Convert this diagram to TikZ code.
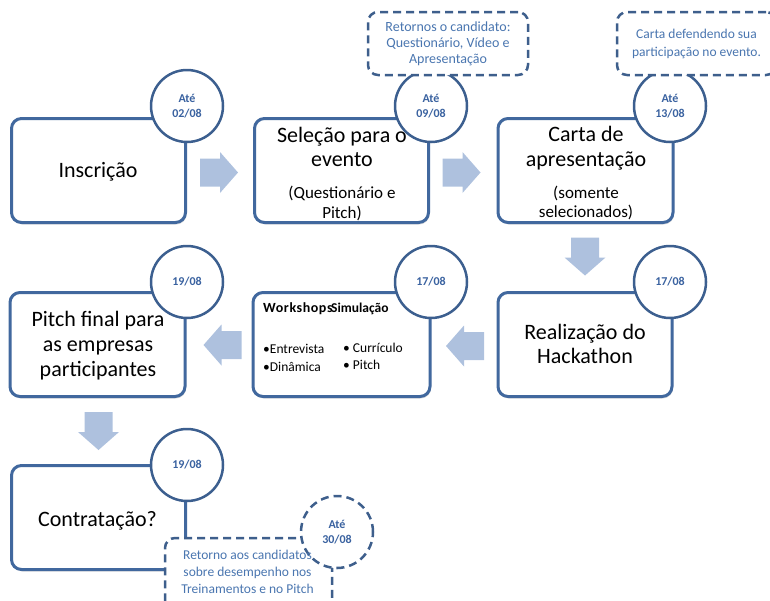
\documentclass[tikz,border=0pt]{standalone}
\usepackage{fontspec}
\setmainfont{Carlito}
\usetikzlibrary{shadows}
\definecolor{boxblue}{HTML}{41689E}
\definecolor{circblue}{HTML}{3C5F8F}
\definecolor{dashblue}{HTML}{3E5F8C}
\definecolor{datetext}{HTML}{3A62A0}
\definecolor{notetext}{HTML}{4A76B0}
\definecolor{arrowblue}{HTML}{AEC1DE}
\begin{document}
\begin{tikzpicture}[x=1pt,y=-1pt,
  stagebox/.style={draw=boxblue, line width=3pt, rounded corners=10pt, fill=white,
    minimum width=174pt, minimum height=104pt, inner sep=0pt,
    drop shadow={shadow xshift=1pt, shadow yshift=-2pt, opacity=0.25}},
  datecircle/.style={circle, draw=circblue, line width=2.5pt, fill=white,
    minimum size=72pt, inner sep=0pt, text=datetext, align=center,
    font=\bfseries\fontsize{12}{15}\selectfont},
  notebox/.style={draw=dashblue, line width=2.5pt, dash pattern=on 8pt off 5pt,
    rounded corners=10pt, fill=white, inner sep=0pt, text=notetext, align=center,
    font=\fontsize{14}{16}\selectfont},
  blockarr/.pic={\fill[arrowblue] (-19,-14) -- (1,-14) -- (1,-20.5) -- (19,0)
      -- (1,20.5) -- (1,14) -- (-19,14) -- cycle;},
  bigtext/.style={align=center, inner sep=0pt, font=\fontsize{22}{24.5}\selectfont},
  subtext/.style={align=center, inner sep=0pt, font=\fontsize{17}{20}\selectfont},
  wstext/.style={anchor=base west, inner sep=0pt, font=\fontsize{13.5}{16}\selectfont},
  wshead/.style={anchor=base west, inner sep=0pt, font=\bfseries\fontsize{13.5}{16}\selectfont}
]
\useasboundingbox (0,0) rectangle (770,600);

% block arrows
\coordinate (a12) at (219,172.5);
\coordinate (a23) at (461.5,172.5);
\coordinate (a36) at (585,256.5);
\coordinate (a65) at (465,346);
\coordinate (a54) at (222.5,345);
\coordinate (a47) at (98.5,431);
\pic at (a12) {blockarr};
\pic at (a23) {blockarr};
\pic[rotate=-90] at (a36) {blockarr};
\pic[rotate=180] at (a65) {blockarr};
\pic[rotate=180] at (a54) {blockarr};
\pic[rotate=-90] at (a47) {blockarr};

% stage boxes
\node[stagebox] (b1) at (98.5,170.5) {};
\node[stagebox] (b2) at (341.5,170.5) {};
\node[stagebox, minimum width=175pt] (b3) at (585.5,170.5) {};
\node[stagebox, minimum width=175pt] (b4) at (97.5,344.5) {};
\node[stagebox, minimum width=177pt] (b5) at (341.5,344.5) {};
\node[stagebox] (b6) at (585,344.5) {};
\node[stagebox] (b7) at (98.5,517.5) {};

% date circles
\node[datecircle] (c1) at (187,106) {Até\\02/08};
\node[datecircle] (c2) at (431,106) {Até\\09/08};
\node[datecircle] (c3) at (670,106) {Até\\13/08};
\node[datecircle] (c4) at (187,282) {19/08};
\node[datecircle] (c5) at (431,282) {17/08};
\node[datecircle] (c6) at (670,282) {17/08};
\node[datecircle] (c7) at (187,465) {19/08};

% notes
\node[notebox, minimum width=160pt, minimum height=63pt] (nA) at (448,43.5)
  {Retornos o candidato:\\Questionário, Vídeo e\\Apresentação};
\node[notebox, minimum width=159pt, minimum height=63pt,
  font=\fontsize{13.5}{18}\selectfont] (nB) at (696.5,43.5)
  {Carta defendendo sua\\participação no evento.};
\node[notebox, minimum width=167pt, minimum height=102pt] (nC) at (248.5,589) {};
\node[datecircle, dash pattern=on 8pt off 5pt, draw=dashblue] (cD) at (337,532) {Até\\30/08};

% texts
\node[bigtext] (t1) at (98,172) {Inscrição};
\node[bigtext, font=\fontsize{22}{24}\selectfont] (t2) at (342,146.5) {Seleção para o\\evento};
\node[subtext] (t2s) at (342,203) {(Questionário e\\Pitch)};
\node[bigtext, font=\fontsize{22}{25}\selectfont] (t3) at (586,148) {Carta de\\apresentação};
\node[subtext, font=\fontsize{17}{19}\selectfont] (t3s) at (586,202.5) {(somente\\selecionados)};
\node[bigtext, font=\fontsize{22}{25}\selectfont] (t4) at (98,346) {Pitch final para\\as empresas\\participantes};
\node[bigtext, font=\fontsize{22}{24}\selectfont] (t6) at (585,343.5) {Realização do\\Hackathon};
\node[bigtext] (t7) at (97.5,520.7) {Contratação?};

\node[wshead, font=\bfseries\fontsize{14}{16}\selectfont\addfontfeature{LetterSpace=4}] (w1) at (263,312) {Workshops};
\node[wshead] (w2) at (331,312) {Simulação};
\node[wstext] (w3) at (263,353) {•Entrevista};
\node[wstext] (w4) at (263,371) {•Dinâmica};
\node[wstext] (w5) at (343,352) {• Currículo};
\node[wstext] (w6) at (343,369) {• Pitch};

\node[align=center, inner sep=0pt, text=notetext, font=\fontsize{13.5}{17}\selectfont]
  (tC) at (247.5,571.5) {Retorno aos candidatos\\sobre desempenho nos\\Treinamentos e no Pitch};
\end{tikzpicture}
\end{document}
